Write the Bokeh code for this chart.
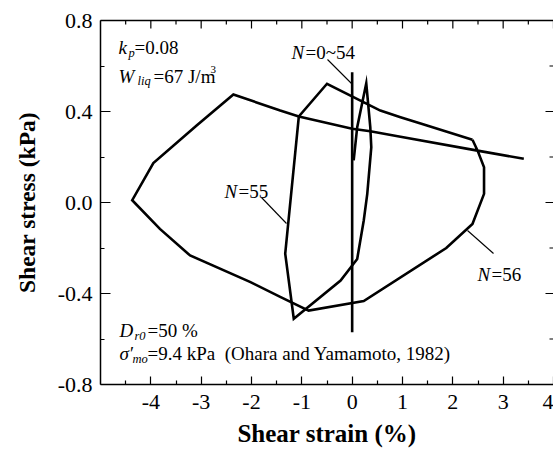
from bokeh.plotting import figure
from bokeh.models import LinearAxis, FixedTicker, Range1d
from bokeh.core.properties import value
from bokeh.embed import file_html
from bokeh.resources import INLINE

# ---------------- data ----------------
# N = 0~54 : small cycles along the vertical line
n0_54_strain = [0.0, 0.0]
n0_54_stress = [-0.57, 0.573]

# N = 55 cycle
n55_strain = [0.03, 0.10, 0.28, 0.36, 0.38, 0.30, 0.23, 0.10, -0.23, -1.16, -1.33,
              -1.06, -0.50, 0.56, 0.96, 1.36, 2.39]
n55_stress = [0.185, 0.331, 0.524, 0.331, 0.243, 0.038, -0.079, -0.248, -0.343, -0.511, -0.225,
              0.378, 0.522, 0.404, 0.375, 0.347, 0.276]

# N = 56 cycle
n56_strain = [2.39, 2.49, 2.62, 2.62, 2.39, 1.87, 0.23, -0.865, -1.43, -2.02, -3.22, -3.82,
              -4.37, -3.95, -3.09, -2.36, -1.43, -1.06, 0.0, 0.36, 0.96, 2.49, 3.41]
n56_stress = [0.276, 0.229, 0.155, 0.038, -0.094, -0.200, -0.433, -0.475, -0.415, -0.350, -0.233, -0.116,
              0.010, 0.173, 0.338, 0.475, 0.404, 0.378, 0.324, 0.313, 0.289, 0.228, 0.192]

x_ticks = [-4, -3, -2, -1, 0, 1, 2, 3, 4]
x_tick_labels = ["-4", "-3", "-2", "-1", "0", "1", "2", "3", "4"]
x_minor = [-4.5, -3.5, -2.5, -1.5, -0.5, 0.5, 1.5, 2.5, 3.5]
y_ticks = [-0.8, -0.4, 0.0, 0.4, 0.8]
y_tick_labels = ["-0.8", "-0.4", "0.0", "0.4", "0.8"]
y_minor = [-0.6, -0.2, 0.2, 0.6]

# ---------------- layout ----------------
W, H = 553, 454
LEFT, TOP, BOTTOM = 100, 20, 70
X0, X1 = -5.0, 4.0
Y0, Y1 = -0.8, 0.8
FW = W - LEFT
FH = H - TOP - BOTTOM

def px2x(px):
    return X0 + (px - LEFT) / FW * (X1 - X0)

def py2y(py):
    return Y1 - (py - TOP) / FH * (Y1 - Y0)

SERIF = "Liberation Serif"

p = figure(width=W, height=H, output_backend="svg", toolbar_location=None,
           x_range=Range1d(X0, X1), y_range=Range1d(Y0, Y1),
           min_border_left=LEFT, min_border_right=0, min_border_top=TOP,
           min_border_bottom=BOTTOM, x_axis_type=None, y_axis_type=None)
p.outline_line_color = None
p.background_fill_color = "white"
p.border_fill_color = "white"

def style_axis(ax, major_in=8):
    ax.major_tick_in = major_in
    ax.major_tick_out = 0
    ax.minor_tick_in = 4
    ax.minor_tick_out = 0
    ax.axis_line_width = 1.5
    ax.major_tick_line_width = 1.2
    ax.minor_tick_line_width = 1.2
    ax.axis_line_color = "black"
    ax.major_tick_line_color = "black"
    ax.minor_tick_line_color = "black"
    ax.major_label_text_font = SERIF
    ax.major_label_text_font_size = "22px"
    ax.major_label_text_color = "black"
    ax.axis_label_text_font = SERIF
    ax.axis_label_text_font_style = "bold"
    ax.axis_label_text_color = "black"

xb = LinearAxis(axis_label="Shear strain (%)")
style_axis(xb)
xb.ticker = FixedTicker(ticks=x_ticks, minor_ticks=x_minor)
xb.major_label_overrides = dict(zip(x_ticks, x_tick_labels))
xb.major_label_standoff = 10
xb.axis_label_standoff = 8
xb.axis_label_text_font_size = "25px"
p.add_layout(xb, "below")

yl = LinearAxis(axis_label="Shear stress (kPa)")
style_axis(yl, major_in=10)
yl.ticker = FixedTicker(ticks=y_ticks, minor_ticks=y_minor)
yl.major_label_overrides = dict(zip(y_ticks, y_tick_labels))
yl.major_label_standoff = 8
yl.axis_label_standoff = 15
yl.axis_label_text_font_size = "23.5px"
p.add_layout(yl, "left")

# top frame line (ticks drawn below as marks)
xt = LinearAxis(ticker=FixedTicker(ticks=[], minor_ticks=[]))
xt.axis_line_width = 1.5
xt.axis_line_color = "black"
xt.major_label_standoff = 0
xt.major_tick_out = 0
xt.minor_tick_out = 0
p.add_layout(xt, "above")

p.grid.visible = False

# inward ticks on top and right edges
MAJ, MIN = 8, 4
top_y_major = py2y(TOP + MAJ)
top_y_minor = py2y(TOP + MIN)
p.segment(x0=x_ticks, y0=[Y1] * len(x_ticks), x1=x_ticks, y1=[top_y_major] * len(x_ticks),
          line_color="black", line_width=1.2)
p.segment(x0=x_minor, y0=[Y1] * len(x_minor), x1=x_minor, y1=[top_y_minor] * len(x_minor),
          line_color="black", line_width=1.2)
right_x_major = px2x(W - MAJ)
right_x_minor = px2x(W - MIN)
p.segment(x0=[X1] * len(y_ticks), y0=y_ticks, x1=[right_x_major] * len(y_ticks), y1=y_ticks,
          line_color="black", line_width=1.2)
p.segment(x0=[X1] * len(y_minor), y0=y_minor, x1=[right_x_minor] * len(y_minor), y1=y_minor,
          line_color="black", line_width=1.2)

# ---------------- curves ----------------
LW = 2.6
p.line(n0_54_strain, n0_54_stress, line_color="black", line_width=LW)
p.line(n55_strain, n55_stress, line_color="black", line_width=LW, line_join="miter")
p.line(n56_strain, n56_stress, line_color="black", line_width=LW, line_join="miter")

# leader lines (pixel positions of the annotation pointers)
leaders = [((327, 59), (351, 83)), ((261, 197), (286, 223)), ((467, 230), (493, 253))]
p.segment(x0=[px2x(a[0]) for a, b in leaders], y0=[py2y(a[1]) for a, b in leaders],
          x1=[px2x(b[0]) for a, b in leaders], y1=[py2y(b[1]) for a, b in leaders],
          line_color="black", line_width=1.1)

# ---------------- annotation text (chunks: text, left px, baseline px, size, style) ----------------
FS = "19px"
SUB = "12.5px"
chunks = [
    ("k", 118, 47, FS, "italic"), ("p", 128, 52, SUB, "italic"), ("=0.08", 134, 47, FS, "normal"),
    ("W", 118, 76, FS, "italic"), ("liq", 137, 80, SUB, "italic"), ("=67 J/m", 153, 76, FS, "normal"),
    ("3", 210, 69, "11px", "normal"),
    ("N", 291, 52, FS, "italic"), ("=0~54", 305, 52, FS, "normal"),
    ("N", 224, 191, FS, "italic"), ("=55", 238, 191, FS, "normal"),
    ("N", 477, 274, FS, "italic"), ("=56", 491, 274, FS, "normal"),
    ("D", 119, 330, FS, "italic"), ("r0", 134, 335, SUB, "italic"), ("=50 %", 147, 330, FS, "normal"),
    ("σ′", 119, 353, FS, "italic"), ("mo", 132, 358, SUB, "italic"),
    ("=9.4 kPa\u00a0\u00a0(Ohara and Yamamoto, 1982)", 147, 353, FS, "normal"),
]
for txt, lx, by, size, st in chunks:
    p.text(x=[px2x(lx)], y=[py2y(by)], text=[txt], text_font=value(SERIF),
           text_font_size=value(size), text_font_style=st, text_color="black",
           text_align="left", text_baseline="alphabetic")

open("out.html", "w").write(file_html(p, INLINE))
